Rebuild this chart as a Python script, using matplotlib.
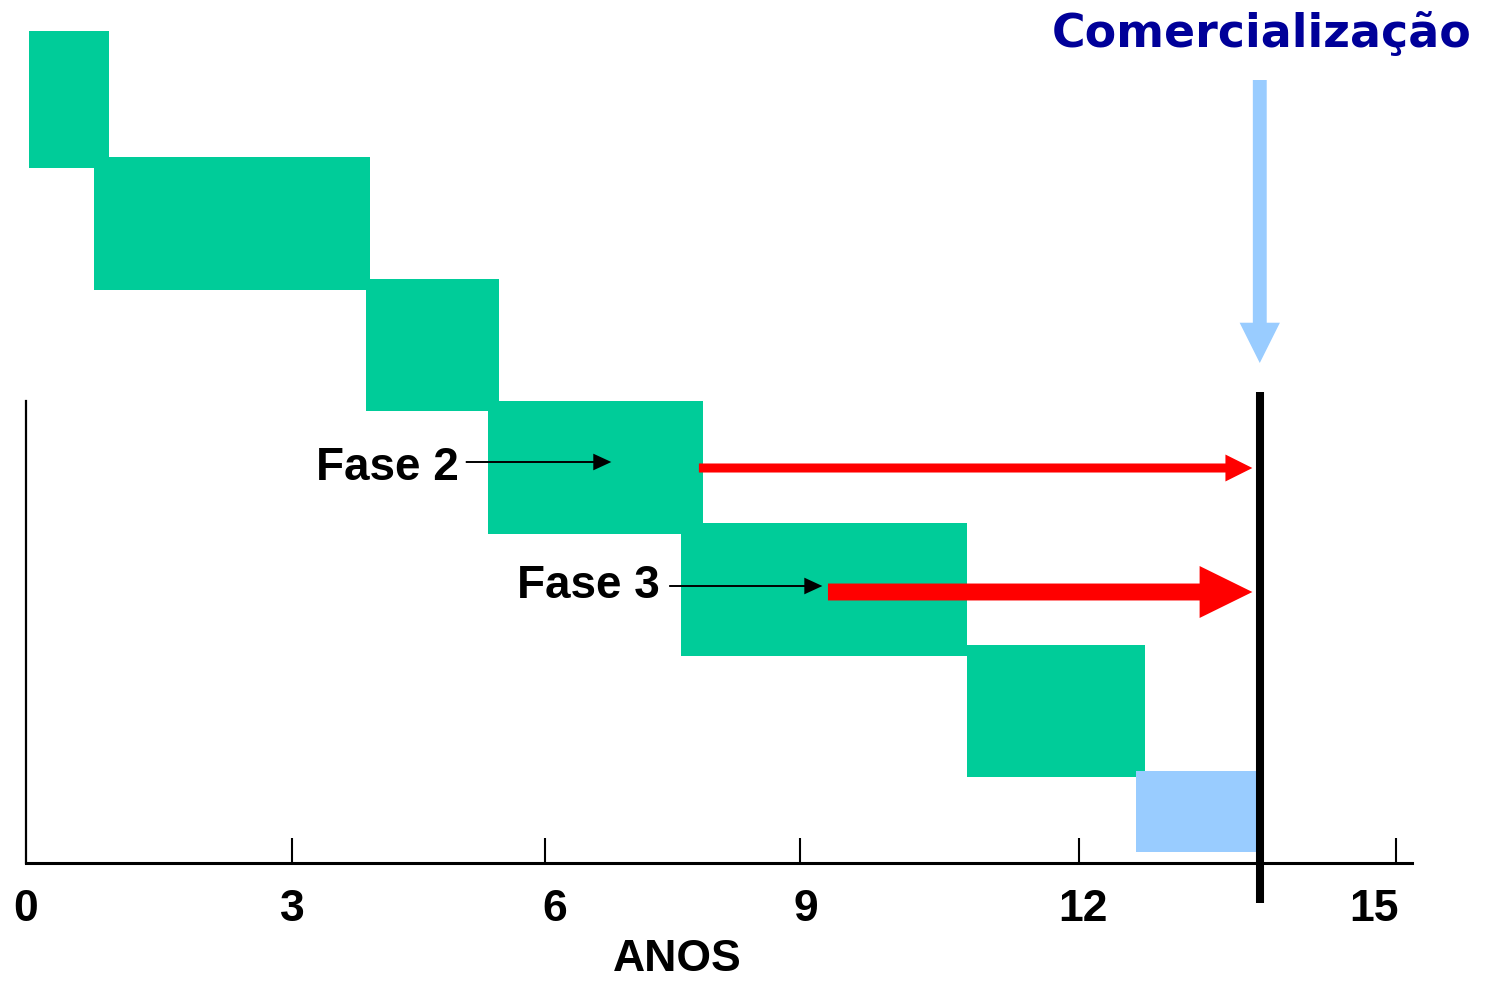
import numpy as np
import matplotlib
matplotlib.use("Agg")
import matplotlib.pyplot as plt
import matplotlib.transforms as mtransforms
from matplotlib.patches import FancyArrowPatch

plt.rcParams['font.family'] = ['Liberation Sans', 'DejaVu Sans']
plt.rcParams['font.weight'] = 'bold'

# fases do desenvolvimento (anos)
fase_inicio = [0.03, 0.77, 3.88, 5.32, 7.60, 10.80]
fase_fim = [0.94, 3.93, 5.46, 7.86, 10.80, 12.62]
fase_base = [6.95, 5.73, 4.52, 3.29, 2.07, 0.86]
fase_altura = [1.37, 1.33, 1.32, 1.33, 1.33, 1.32]

# registro / aprovacao
reg_inicio = 12.54
reg_base = 0.11
reg_altura = 0.81

lancamento = 13.71

anos_ticks = [0, 3, 6, 9, 12, 15]
anos_labels = ['0', '3', '6', '9', '12', '15']

# inicio das setas de cada fase
seta_fase2 = (7.81, 3.95)
seta_fase3 = (9.30, 2.71)
marca_fase2 = (5.06, 6.78, 4.01)
marca_fase3 = (7.46, 9.24, 2.77)

VERDE = '#00CC99'
AZUL_CLARO = '#99CCFF'
AZUL_ESCURO = '#000099'
VERMELHO = '#FF0000'

# escala do eixo dos anos (espacamento irregular)
esc_anos = [0, 3, 6, 9, 12, 15, 16]
esc_pos = [26, 292, 545, 800, 1079, 1396, 1502]


def fwd(x):
    return np.interp(x, esc_anos, esc_pos)


def inv(p):
    return np.interp(p, esc_pos, esc_anos)


fig = plt.figure(figsize=(14.85, 9.82), dpi=100)
ax = fig.add_axes([26 / 1485, 119 / 982, 1386 / 1485, 863 / 982])
ax.set_xscale('function', functions=(fwd, inv))
ax.set_xlim(0, 15.15)
ax.set_ylim(0, 8.63)

for x0, x1, y0, h in zip(fase_inicio, fase_fim, fase_base, fase_altura):
    ax.bar(x0, h, width=x1 - x0, bottom=y0, align='edge', color=VERDE,
           linewidth=0)
ax.bar(reg_inicio, reg_altura, width=lancamento - reg_inicio, bottom=reg_base,
       align='edge', color=AZUL_CLARO, linewidth=0, zorder=2)

# linha de comercializacao
ax.plot([lancamento, lancamento], [-0.40, 4.71], color='black', lw=5.8,
        solid_capstyle='butt', clip_on=False, zorder=5)


def seta(p0, p1, cor, tail, hw, hl):
    a = FancyArrowPatch(p0, p1, arrowstyle='simple,head_length=%g,head_width=%g,tail_width=%g' % (hl, hw, tail),
                        mutation_scale=1, shrinkA=0, shrinkB=0, color=cor,
                        linewidth=0, clip_on=False, zorder=6)
    ax.add_patch(a)


seta(seta_fase2, (13.64, seta_fase2[1]), VERMELHO, 6.5, 19.4, 19.4)
seta(seta_fase3, (13.64, seta_fase3[1]), VERMELHO, 12.2, 37.4, 38)
seta((marca_fase2[0], marca_fase2[2]), (marca_fase2[1], marca_fase2[2]),
     'black', 1.4, 12, 13)
seta((marca_fase3[0], marca_fase3[2]), (marca_fase3[1], marca_fase3[2]),
     'black', 1.4, 12, 13)
seta((lancamento, 7.83), (lancamento, 5.0), AZUL_CLARO, 10, 29, 29)

ax.text(4.98, 3.83, 'Fase 2', ha='right', va='baseline', fontsize=33,
        fontweight='bold')
ax.text(7.35, 2.65, 'Fase 3', ha='right', va='baseline', fontsize=33,
        fontweight='bold')
ax.text(lancamento + 0.02, 8.16, 'Comercialização', ha='center', va='baseline',
        fontsize=33, fontweight='bold', color=AZUL_ESCURO, clip_on=False,
        family=['DejaVu Sans'])

ax.spines['top'].set_visible(False)
ax.spines['right'].set_visible(False)
ax.spines['left'].set_bounds(0, 4.62)
ax.spines['left'].set_linewidth(1.6)
ax.spines['bottom'].set_linewidth(2.2)
ax.set_yticks([])
ax.set_xticks(anos_ticks)
ax.set_xticklabels(anos_labels)
ax.tick_params(axis='x', direction='in', length=18, width=1.5, pad=19,
               labelsize=32)
ax.xaxis.get_major_ticks()[0].tick1line.set_visible(False)

# pequenos deslocamentos horizontais dos rotulos (pontos)
desloc = [0, 0, 7, 4, 3, -16]
for lab, dx in zip(ax.get_xticklabels(), desloc):
    lab.set_transform(lab.get_transform() +
                      mtransforms.ScaledTranslation(dx / 72, 0, fig.dpi_scale_trans))

ax.set_xlabel('ANOS', fontsize=32, fontweight='bold')
ax.xaxis.set_label_coords(0.47, -0.088)

fig.savefig('out.png', dpi=100)
